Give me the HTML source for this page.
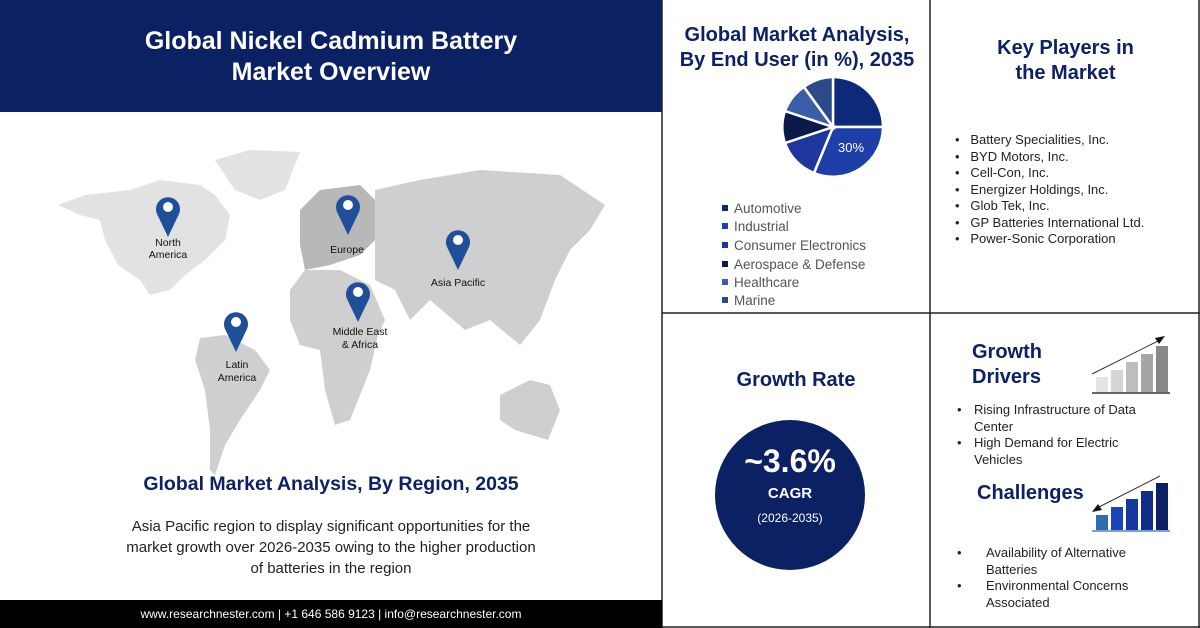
<!DOCTYPE html>
<html><head><meta charset="utf-8"><style>
*{margin:0;padding:0;box-sizing:border-box}
body{width:1200px;height:628px;background:#fff;font-family:"Liberation Sans",sans-serif;position:relative;overflow:hidden}
.a{position:absolute;white-space:nowrap}
.t{color:#0d2266;font-weight:bold;font-size:20px;text-align:center;line-height:25px}
.li{font-size:13px;color:#222;line-height:16.5px}
</style></head><body>
<div class="a" style="left:0;top:0;width:662px;height:112px;background:#0c2163"></div>
<div class="a" style="left:0;top:26px;width:662px;text-align:center;color:#fff;font-weight:bold;font-size:25px;line-height:31px">Global Nickel Cadmium Battery<br>Market Overview</div>
<svg class="a" style="left:0;top:0" width="1200" height="628">
<g fill="#e2e2e2">
<polygon points="58,205 85,195 130,190 160,180 200,185 215,195 230,215 225,240 205,260 185,275 170,290 150,295 140,280 118,265 105,240 100,220 80,215"/>
<polygon points="215,160 250,150 300,152 285,190 260,200 235,190"/>
</g>
<g fill="#cfcfcf">
<polygon points="200,338 225,335 255,350 270,370 260,390 240,420 225,445 215,475 210,470 210,430 205,390 195,360"/>
<polygon points="290,290 305,270 340,270 370,285 385,320 378,335 370,370 350,420 335,425 325,390 320,350 300,345 290,320"/>
<polygon points="375,190 420,180 480,170 560,175 605,205 590,230 570,250 555,280 540,320 520,345 490,320 465,330 430,300 410,320 395,290 375,280 375,240"/>
<polygon points="500,395 530,380 550,385 560,410 548,440 515,430 500,420"/>
</g>
<polygon fill="#b8b8b8" points="300,210 320,190 360,185 375,200 375,240 360,255 330,265 305,270 300,245"/>
<g fill="#1f4e9a">
<path d="M168,237 L157,214 A12,12 0 1 1 179,214 Z"/><circle cx="168" cy="207" r="5" fill="#fff"/>
<path d="M348,235 L337,212 A12,12 0 1 1 359,212 Z"/><circle cx="348" cy="205" r="5" fill="#fff"/>
<path d="M458,270 L447,247 A12,12 0 1 1 469,247 Z"/><circle cx="458" cy="240" r="5" fill="#fff"/>
<path d="M358,322 L347,299 A12,12 0 1 1 369,299 Z"/><circle cx="358" cy="292" r="5" fill="#fff"/>
<path d="M236,352 L225,329 A12,12 0 1 1 247,329 Z"/><circle cx="236" cy="322" r="5" fill="#fff"/>
</g>
<g font-family="Liberation Sans" font-size="10.5" fill="#111" text-anchor="middle">
<text x="168" y="246">North</text><text x="168" y="258">America</text>
<text x="347" y="253">Europe</text>
<text x="458" y="286">Asia Pacific</text>
<text x="360" y="335">Middle East</text><text x="360" y="348">&amp; Africa</text>
<text x="237" y="368">Latin</text><text x="237" y="381">America</text>
</g>
<g stroke="#222" stroke-width="1.5">
<line x1="662" y1="0" x2="662" y2="628"/><line x1="930" y1="0" x2="930" y2="628"/>
<line x1="662" y1="313" x2="1200" y2="313"/><line x1="1199" y1="0" x2="1199" y2="628"/>
<line x1="662" y1="627" x2="1200" y2="627"/>
</g>
<g stroke="#fff" stroke-width="2.5">
<path d="M833,127 L833,77 A50,50 0 0 1 883,127 Z" fill="#0d2a7a"/>
<path d="M833,127 L883,127 A50,50 0 0 1 814,173 Z" fill="#1f3fa8"/>
<path d="M833,127 L814,173 A50,50 0 0 1 785,143 Z" fill="#1e36a0"/>
<path d="M833,127 L785,143 A50,50 0 0 1 785,111 Z" fill="#0c1a4a"/>
<path d="M833,127 L785,111 A50,50 0 0 1 804,87 Z" fill="#3a5eaa"/>
<path d="M833,127 L804,87 A50,50 0 0 1 833,77 Z" fill="#2b4a8a"/>
</g>
<text x="851" y="152" font-family="Liberation Sans" font-size="13" fill="#fff" text-anchor="middle">30%</text>
<g>
<rect x="722" y="205" width="6" height="6" fill="#0d2a7a"/><rect x="722" y="223" width="6" height="6" fill="#1f3fa8"/>
<rect x="722" y="242" width="6" height="6" fill="#1e36a0"/><rect x="722" y="261" width="6" height="6" fill="#0c1a4a"/>
<rect x="722" y="279" width="6" height="6" fill="#3a5eaa"/><rect x="722" y="297" width="6" height="6" fill="#2b4a8a"/>
</g>
<g font-family="Liberation Sans" font-size="13.5" fill="#555">
<text x="734" y="213">Automotive</text><text x="734" y="231">Industrial</text><text x="734" y="250">Consumer Electronics</text>
<text x="734" y="269">Aerospace &amp; Defense</text><text x="734" y="287">Healthcare</text><text x="734" y="305">Marine</text>
</g>
<circle cx="790" cy="495" r="75" fill="#0c2163"/>
<g fill="#fff" font-family="Liberation Sans" text-anchor="middle" font-weight="bold">
<text x="790" y="472" font-size="32">~3.6%</text><text x="790" y="498" font-size="15">CAGR</text>
<text x="790" y="522" font-size="12" font-weight="normal">(2026-2035)</text>
</g>
<line x1="1092" y1="393" x2="1170" y2="393" stroke="#666" stroke-width="2"/>
<rect x="1096" y="377" width="12" height="15" fill="#e4e4e4"/><rect x="1111" y="370" width="12" height="22" fill="#d4d4d4"/>
<rect x="1126" y="362" width="12" height="30" fill="#bdbdbd"/><rect x="1141" y="354" width="12" height="38" fill="#a5a5a5"/>
<rect x="1156" y="346" width="12" height="46" fill="#888"/>
<line x1="1092" y1="374" x2="1160" y2="340" stroke="#333" stroke-width="1"/><polygon points="1165,336 1155,338 1159,344" fill="#111"/>
<line x1="1092" y1="531" x2="1170" y2="531" stroke="#7a9ee0" stroke-width="2"/>
<rect x="1096" y="515" width="12" height="15" fill="#2e6db0"/><rect x="1111" y="507" width="12" height="23" fill="#1a44b8"/>
<rect x="1126" y="499" width="12" height="31" fill="#1538a0"/><rect x="1141" y="491" width="12" height="39" fill="#102e88"/>
<rect x="1156" y="483" width="12" height="47" fill="#0c2163"/>
<line x1="1160" y1="476" x2="1097" y2="508" stroke="#333" stroke-width="1"/><polygon points="1092,512 1102,510 1098,504" fill="#111"/>
</svg>
<div class="a t" style="left:0;top:472px;width:662px;font-size:19.5px">Global Market Analysis, By Region, 2035</div>
<div class="a" style="left:0;top:516px;width:662px;text-align:center;font-size:15px;line-height:21px;color:#222">Asia Pacific region to display significant opportunities for the<br>market growth over 2026-2035 owing to the higher production<br>of batteries in the region</div>
<div class="a" style="left:0;top:600px;width:662px;height:28px;background:#000;color:#fff;font-size:12px;text-align:center;line-height:28px">www.researchnester.com | +1 646 586 9123 | info@researchnester.com</div>
<div class="a t" style="left:662px;top:23px;width:270px">Global Market Analysis,<br>By End User (in %), 2035</div>
<div class="a t" style="left:932px;top:36px;width:267px">Key Players in<br>the Market</div>
<div class="a li" style="left:955px;top:132px">• &nbsp;&nbsp;Battery Specialities, Inc.<br>• &nbsp;&nbsp;BYD Motors, Inc.<br>• &nbsp;&nbsp;Cell-Con, Inc.<br>• &nbsp;&nbsp;Energizer Holdings, Inc.<br>• &nbsp;&nbsp;Glob Tek, Inc.<br>• &nbsp;&nbsp;GP Batteries International Ltd.<br>• &nbsp;&nbsp;Power-Sonic Corporation</div>
<div class="a t" style="left:662px;top:368px;width:268px">Growth Rate</div>
<div class="a t" style="left:972px;top:340px;text-align:left">Growth<br>Drivers</div>
<div class="a li" style="left:957px;top:402px">•</div><div class="a li" style="left:974px;top:402px">Rising Infrastructure of Data<br>Center</div>
<div class="a li" style="left:957px;top:435px">•</div><div class="a li" style="left:974px;top:435px">High Demand for Electric<br>Vehicles</div>
<div class="a t" style="left:977px;top:481px;text-align:left">Challenges</div>
<div class="a li" style="left:957px;top:545px">•</div><div class="a li" style="left:986px;top:545px">Availability of Alternative<br>Batteries</div>
<div class="a li" style="left:957px;top:578px">•</div><div class="a li" style="left:986px;top:578px">Environmental Concerns<br>Associated</div>
</body></html>
